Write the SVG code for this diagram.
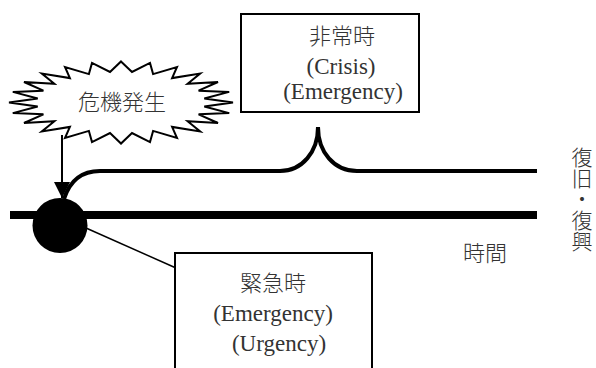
<svg xmlns="http://www.w3.org/2000/svg" width="596" height="368" viewBox="0 0 596 368">
<defs>
<style>
.box{fill:#fff;stroke:#000;stroke-width:2}
.t{font-family:"Liberation Serif","Noto Sans CJK JP",serif;font-size:23px;fill:#333;text-anchor:middle}
.j{font-family:"Noto Sans CJK JP",sans-serif;font-size:22px;fill:#333;text-anchor:middle;font-weight:300}
.v{font-family:"Noto Sans CJK JP",sans-serif;font-size:21px;fill:#333;font-weight:300;writing-mode:vertical-rl}
.ln{fill:none;stroke:#000}
</style>
<marker id="ah" viewBox="0 0 16 16" refX="16" refY="8" markerWidth="16" markerHeight="16" markerUnits="userSpaceOnUse" orient="auto">
<path d="M0,0 L16,8 L0,16 Z" fill="#000"/>
</marker>
</defs>
<rect width="596" height="368" fill="#fff"/>
<g id="connectors">
<line class="ln" x1="10" y1="215" x2="537" y2="215" stroke-width="8"/>
<path class="ln" stroke-width="4" d="M64,199 C70,180 82,171 100,171 L280,171 C302,171 318,152 318,127 C318,152 334,171 357,171 L537,171"/>
<line class="ln" x1="62" y1="135" x2="62" y2="198" stroke-width="2" marker-end="url(#ah)"/>
<line class="ln" x1="86" y1="228" x2="176" y2="268" stroke-width="1.5"/>
</g>
<g id="crisis">
<polygon fill="#fff" stroke="#000" stroke-width="2" points="121,61.5 132,72 150,62.9 153.1,74.1 177,67 172.1,78.1 200.2,73.5 187.6,83.8 218,82 198.6,90.7 229.2,91.9 204.3,98.5 233,102.5 204.3,106.5 229.2,113.1 198.6,114.3 218,123 187.6,121.2 200.2,131.5 172.1,126.9 177,138 153.1,130.9 150,142.1 132,133 121,143.5 110,133 92,142.1 88.9,130.9 65,138 69.9,126.9 41.8,131.5 54.4,121.2 24,123 43.4,114.3 12.8,113.1 37.7,106.5 9,102.5 37.7,98.5 12.8,91.9 43.4,90.7 24,82 54.4,83.8 41.8,73.5 69.9,78.1 65,67 88.9,74.1 92,62.9 110,72"/>
<text class="j" x="122" y="110">危機発生</text>
</g>
<g id="point">
<circle cx="60" cy="225.5" r="27.5" fill="#000"/>
</g>
<g id="emergency-period">
<rect class="box" x="241" y="14" width="178" height="98"/>
<text class="j" x="342" y="44">非常時</text>
<text class="t" x="341" y="74">(Crisis)</text>
<text class="t" x="343" y="99">(Emergency)</text>
</g>
<g id="urgent-period">
<rect class="box" x="175" y="253" width="197" height="125"/>
<text class="j" x="273" y="291">緊急時</text>
<text class="t" x="273" y="321">(Emergency)</text>
<text class="t" x="279" y="351">(Urgency)</text>
</g>
<g id="labels">
<text class="j" x="485" y="261">時間</text>
<text class="v" x="582" y="147">復旧・復興</text>
</g>
</svg>
